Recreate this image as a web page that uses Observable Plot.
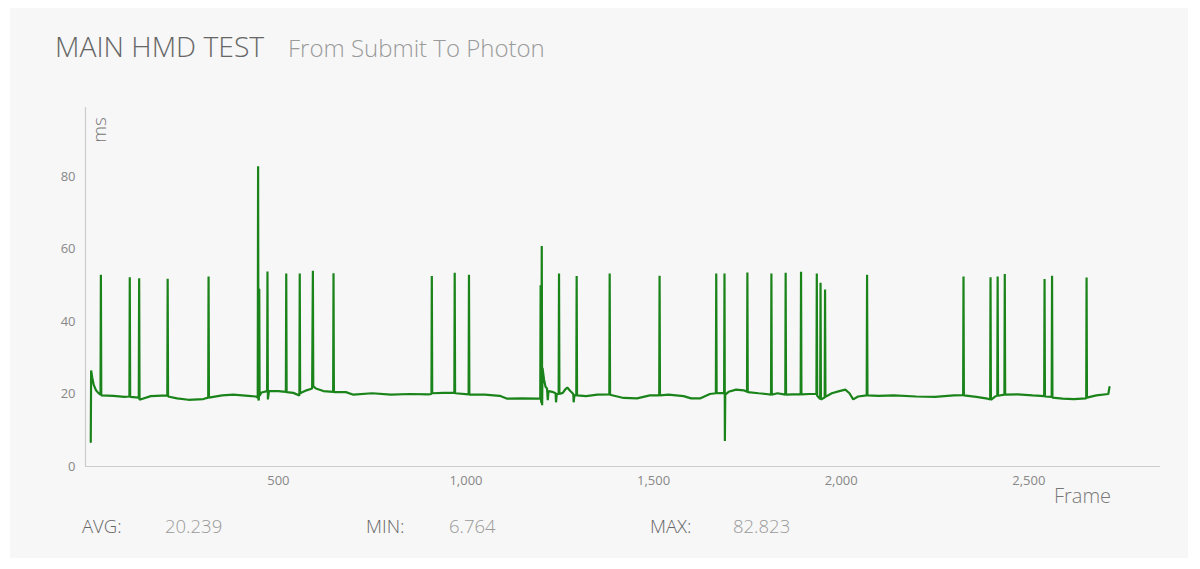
<!DOCTYPE html>
<html>
<head>
<meta charset="utf-8">
<script src="https://cdn.jsdelivr.net/npm/d3@7"></script>
<script src="https://cdn.jsdelivr.net/npm/@observablehq/plot@0.6"></script>
<style>
  html, body { margin: 0; padding: 0; background: #ffffff; }
  body { width: 1200px; height: 569px; position: relative; overflow: hidden; font-family: "Open Sans", "DejaVu Sans", sans-serif; }
  #panel { position: absolute; left: 10px; top: 8px; width: 1178px; height: 550px; background: #f7f7f7; }
  .t { position: absolute; line-height: 1; white-space: nowrap; font-weight: 300; }
  #chart { position: absolute; left: 0; top: 0; }
</style>
</head>
<body>
<div id="panel"></div>
<div class="t" id="title" style="left:55px; top:31.5px; font-size:28.3px; color:#666;">MAIN HMD TEST</div>
<div class="t" id="subtitle" style="left:288px; top:35.5px; font-size:24px; color:#9a9a9a;">From Submit To Photon</div>
<div id="chart"></div>
<div class="t" id="ylabel" style="left:99px; top:130px; font-size:19px; color:#777; transform: translate(-50%,-50%) rotate(-90deg); transform-origin: center;">ms</div>
<div class="t" id="xlabel" style="left:1054px; top:486px; font-size:20px; color:#777;">Frame</div>
<div id="stats"></div>
<script>
// ---- data ----
const title = "MAIN HMD TEST";
const subtitle = "From Submit To Photon";
const yTicks = [0, 20, 40, 60, 80];
const xTicks = [500, 1000, 1500, 2000, 2500];
const statLabels = ["AVG:", "MIN:", "MAX:"];
const statValues = ["20.239", "6.764", "82.823"];

// frame numbers and "From Submit To Photon" time (ms), read point by point
const frames = [
  0, 1, 4, 8, 14, 20, 26, 27, 28, 60, 90,
  103, 104, 105, 128, 129, 130, 160,
  204, 205, 206, 230, 260, 300,
  313, 314, 315, 350, 380, 420, 440,
  445, 446, 447, 448, 449, 450, 455,
  470, 471, 472, 475, 500, 520, 521, 522,
  540, 556, 557, 558, 575, 590, 592, 593, 600, 620,
  646, 647, 648, 680, 700, 750, 800, 850, 900,
  908, 909, 910, 940, 969, 970, 971,
  1007, 1008, 1009, 1050, 1090, 1110, 1150, 1190,
  1198, 1199, 1200, 1201, 1202, 1203, 1204, 1208, 1212, 1216, 1218, 1220, 1230,
  1239, 1240, 1242, 1247, 1248, 1249, 1258, 1265, 1270, 1278, 1286, 1287, 1289,
  1294, 1295, 1296, 1320, 1350,
  1382, 1383, 1384, 1420, 1456, 1490,
  1515, 1516, 1517, 1540, 1580, 1600, 1625, 1650,
  1666, 1667, 1668, 1688, 1689, 1690, 1691, 1700, 1720, 1740,
  1749, 1750, 1751, 1780, 1800,
  1813, 1814, 1815, 1830,
  1851, 1852, 1853, 1870,
  1892, 1893, 1894, 1915,
  1934, 1935, 1936, 1944, 1945, 1946, 1956, 1957, 1958,
  1975, 1995, 2011, 2022, 2032, 2045,
  2068, 2069, 2070, 2100, 2140, 2200, 2250, 2300,
  2325, 2326, 2327, 2360, 2390,
  2397, 2398, 2399, 2410, 2416, 2417, 2418, 2435, 2436, 2437, 2470, 2510,
  2541, 2542, 2543, 2561, 2562, 2563, 2590, 2620,
  2653, 2654, 2655, 2680, 2712, 2715
];
const ms = [
  6.764, 26.5, 24.5, 22.5, 21.0, 20.3, 19.8, 52.9, 19.6, 19.5, 19.2,
  19.3, 52.2, 19.2, 19.0, 51.9, 18.4, 19.4,
  19.6, 51.8, 19.3, 18.8, 18.4, 18.6,
  19.0, 52.4, 19.0, 19.6, 19.8, 19.5, 19.3,
  19.0, 82.823, 18.2, 18.5, 49.0, 19.5, 20.4,
  20.8, 53.8, 18.5, 20.8, 20.8, 20.6, 53.2, 20.5,
  20.3, 19.6, 53.2, 20.2, 21.0, 21.5, 54.0, 22.2, 21.5, 20.8,
  20.6, 53.3, 20.5, 20.5, 19.8, 20.2, 19.8, 20.0, 19.9,
  20.0, 52.5, 20.2, 20.3, 20.3, 53.4, 20.2,
  19.9, 52.9, 19.8, 19.8, 19.5, 18.7, 18.8, 18.7,
  18.8, 50.0, 18.5, 17.5, 60.8, 16.9, 27.2, 24.0, 22.0, 21.5, 18.3, 20.8, 20.6,
  20.2, 17.7, 20.0, 20.0, 53.2, 20.0, 20.3, 21.3, 21.8, 20.8, 20.0, 17.7, 19.6,
  19.6, 52.5, 19.6, 19.4, 19.8,
  19.9, 53.2, 19.8, 18.9, 18.8, 19.6,
  19.6, 52.6, 19.6, 19.8, 19.4, 18.8, 18.8, 20.0,
  20.2, 53.2, 20.2, 20.3, 53.2, 7.0, 19.8, 20.6, 21.2, 21.0,
  20.6, 53.5, 20.5, 20.2, 20.0,
  19.8, 53.2, 19.8, 20.2,
  19.8, 53.4, 19.8, 19.9,
  19.9, 53.7, 19.9, 20.0,
  20.0, 53.2, 19.5, 18.6, 50.7, 18.5, 19.0, 48.8, 19.2,
  20.2, 20.8, 21.2, 20.2, 18.5, 19.3,
  19.6, 52.9, 19.6, 19.5, 19.6, 19.3, 19.2, 19.6,
  19.7, 52.4, 19.6, 19.2, 18.7,
  18.5, 52.2, 18.4, 19.3, 19.5, 52.4, 19.5, 19.8, 53.1, 19.8, 19.9, 19.6,
  19.4, 51.7, 19.3, 19.2, 52.6, 19.0, 18.7, 18.6,
  18.8, 52.1, 19.0, 19.6, 20.0, 21.9
];

const data = frames.map((f, i) => ({frame: f, ms: ms[i]}));

document.getElementById("title").textContent = title;
document.getElementById("subtitle").textContent = subtitle;

// stats row
const stats = document.getElementById("stats");
const statX = [82, 366, 650];
statLabels.forEach((lab, i) => {
  const a = document.createElement("div");
  a.className = "t";
  a.style.cssText = `left:${statX[i]}px; top:517px; font-size:18.5px; color:#666;`;
  a.textContent = lab;
  stats.appendChild(a);
  const b = document.createElement("div");
  b.className = "t";
  b.style.cssText = `left:${statX[i] + 83}px; top:517px; font-size:18.5px; color:#9a9a9a;`;
  b.textContent = statValues[i];
  stats.appendChild(b);
});

const xDomain = [-14, 2851];
const yDomain = [0, 99];

const chart = Plot.plot({
  width: 1200,
  height: 569,
  marginLeft: 85,
  marginRight: 40,
  marginTop: 107,
  marginBottom: 103,
  style: {background: "transparent", fontFamily: "'Open Sans', sans-serif", overflow: "visible"},
  x: {domain: xDomain},
  y: {domain: yDomain},
  marks: [
    Plot.axisY({ticks: yTicks, tickSize: 0, tickPadding: 10, fontSize: 13, color: "#888", label: null, tickFormat: d3.format("d")}),
    Plot.axisX({ticks: xTicks, tickSize: 0, tickPadding: 9, fontSize: 13, color: "#888", label: null, tickFormat: d3.format(",")}),
    Plot.ruleX([xDomain[0]], {y1: yDomain[0], y2: yDomain[1], stroke: "#cccccc", strokeWidth: 1.2}),
    Plot.ruleY([0], {x1: xDomain[0], x2: xDomain[1], stroke: "#cccccc", strokeWidth: 1.2}),
    Plot.line(data, {x: "frame", y: "ms", stroke: "#1a841a", strokeWidth: 2.2, strokeLinejoin: "miter", curve: "linear"})
  ]
});
chart.querySelectorAll("text").forEach(t => t.setAttribute("fill", "#888"));
document.getElementById("chart").appendChild(chart);
</script>
</body>
</html>
